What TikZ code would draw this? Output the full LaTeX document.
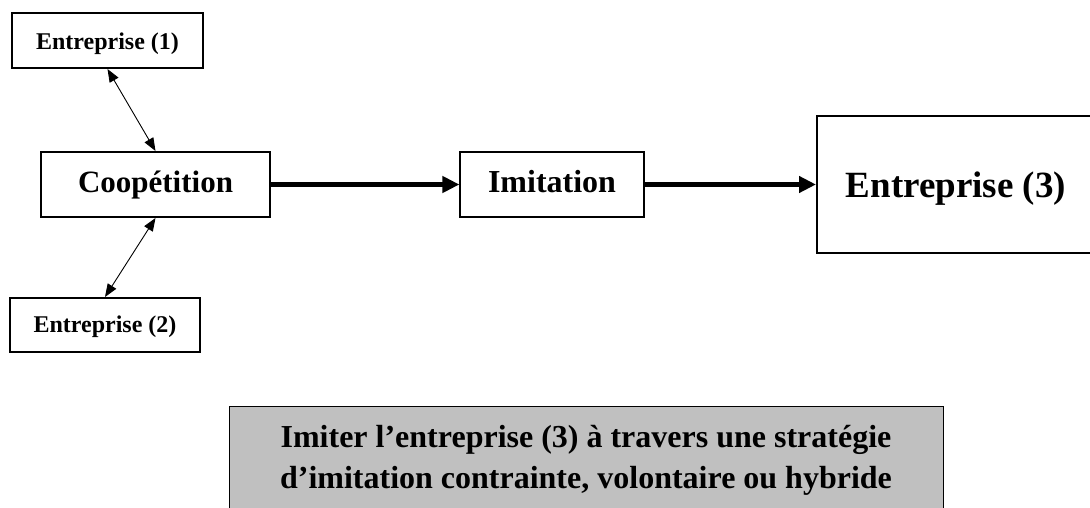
\documentclass[tikz,border=0pt]{standalone}
\usepackage{fontspec}
\setmainfont{Liberation Serif}
\usetikzlibrary{arrows.meta}
\definecolor{notegray}{HTML}{C0C0C0}
\begin{document}
\begin{tikzpicture}[x=1pt,y=-1pt,
  box/.style={draw=black, line width=2pt, align=center, inner sep=0pt, text depth=0pt, font=\bfseries},
  thinarrow/.style={{Triangle[length=13pt,width=10pt]}-{Triangle[length=13pt,width=10pt]}, line width=0.9pt},
  thickarrow/.style={-{Triangle[length=17pt,width=16pt]}, line width=5pt}]
\useasboundingbox (0,0) rectangle (1090,508);
\node[box, minimum width=191pt, minimum height=55pt, text height=19pt, font=\bfseries\fontsize{24}{28}\selectfont] (e1) at (107.5,40.5) {Entreprise (1)};
\node[box, minimum width=229pt, minimum height=65pt, text height=17pt, font=\bfseries\fontsize{31}{36}\selectfont] (coop) at (155.5,184.5) {Coopétition};
\node[box, minimum width=190pt, minimum height=54pt, text height=14pt, font=\bfseries\fontsize{24}{28}\selectfont] (e2) at (105,325) {Entreprise (2)};
\node[box, line width=1.2pt, minimum width=184pt, minimum height=65pt, text height=17pt, font=\bfseries\fontsize{32}{36}\selectfont] (imit) at (552,184.5) {Imitation};
\node[box, minimum width=278pt, minimum height=137pt, text height=25pt, font=\bfseries\fontsize{37}{42}\selectfont] (e3) at (956,184.5) {Entreprise (3)};
\node[draw=black, line width=1pt, fill=notegray, align=center, inner sep=0pt, minimum width=714pt, minimum height=108pt, font=\bfseries\fontsize{32}{41}\selectfont] (note) at (586,460) {Imiter l’entreprise (3) à travers une stratégie\\d’imitation contrainte, volontaire ou hybride};
\draw[thinarrow] (e1.south) -- (coop.north);
\draw[thinarrow] (coop.south) -- (e2.north);
\draw[thickarrow] (coop.east) -- (imit.west);
\draw[thickarrow] (imit.east) -- (e3.west);
\end{tikzpicture}
\end{document}
